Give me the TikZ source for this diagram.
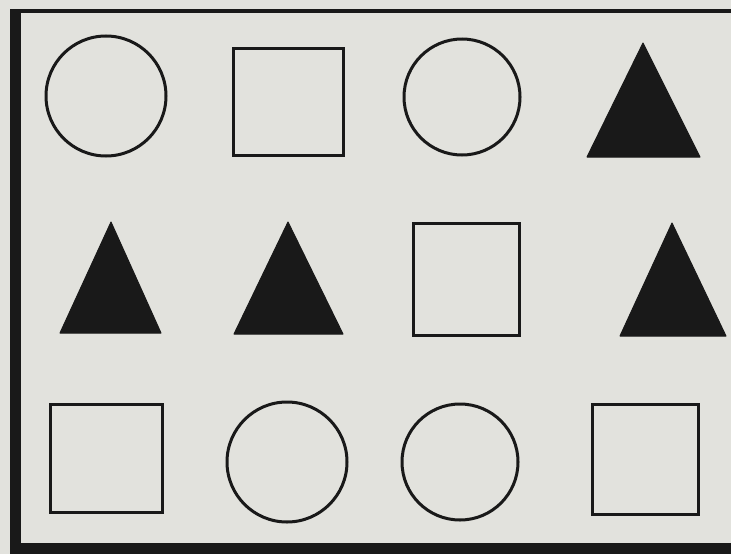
\documentclass[tikz,border=0pt]{standalone}
\definecolor{paper}{RGB}{226,226,221}
\definecolor{ink}{RGB}{25,25,25}
\begin{document}
\begin{tikzpicture}[x=1pt,y=-1pt,
  outline/.style={draw=ink,line width=3pt},
  solid tri/.style={fill=ink,draw=ink,line width=1pt,line join=round}]
\fill[paper] (0,0) rectangle (731,554);
\useasboundingbox (0,0) rectangle (731,554);
% frame
\fill[ink] (10,10) rectangle (21,554);
\fill[ink] (10,9) rectangle (731,13);
\fill[ink] (10,543) rectangle (731,554);
% row 1
\draw[outline] (106,96) circle (60);
\draw[outline] (233,48) rectangle (343,155);
\draw[outline] (462,97) circle (58);
\fill[solid tri] (643,43) -- (700,157) -- (587,157) -- cycle;
% row 2
\fill[solid tri] (111,222) -- (161,333) -- (60,333) -- cycle;
\fill[solid tri] (288,222) -- (343,334) -- (234,334) -- cycle;
\draw[outline] (413,223) rectangle (519,335);
\fill[solid tri] (672,223) -- (726,336) -- (620,336) -- cycle;
% row 3
\draw[outline] (50,404) rectangle (162,512);
\draw[outline] (287,462) circle (60);
\draw[outline] (460,462) circle (58);
\draw[outline] (592,404) rectangle (698,514);
\end{tikzpicture}
\end{document}
